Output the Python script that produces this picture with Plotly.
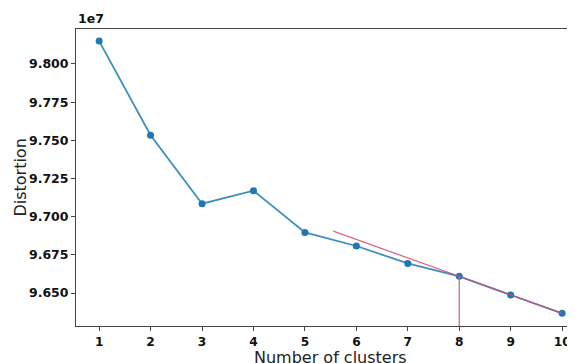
import plotly.graph_objects as go

clusters = [1, 2, 3, 4, 5, 6, 7, 8, 9, 10]
distortion = [98150000, 97533000, 97085000, 97170000, 96897000,
              96808000, 96694000, 96609000, 96487000, 96367000]
ytick_vals = [96500000, 96750000, 97000000, 97250000, 97500000, 97750000, 98000000]
ytick_text = ["9.650", "9.675", "9.700", "9.725", "9.750", "9.775", "9.800"]
xtick_vals = clusters
elbow_k = 8
tangent_start = 5.55

y_min, y_max = 96284000, 98229000

i8 = clusters.index(elbow_k)
slope = (distortion[-1] - distortion[i8]) / (clusters[-1] - clusters[i8])
tx = [tangent_start, clusters[-1]]
ty = [distortion[i8] + slope * (x - elbow_k) for x in tx]

fig = go.Figure()
fig.add_trace(go.Scatter(x=clusters, y=distortion, mode="lines+markers",
                         line=dict(color="#3b8fc0", width=1.8),
                         marker=dict(color="#1f77b4", size=7)))
fig.add_trace(go.Scatter(x=tx, y=ty, mode="lines",
                         line=dict(color="#d9466e", width=1.2), opacity=0.85))
fig.add_trace(go.Scatter(x=[elbow_k, elbow_k], y=[y_min, distortion[i8]], mode="lines",
                         line=dict(color="#e0577a", width=1.2)))

fig.update_layout(
    width=567, height=355,
    margin=dict(l=68, r=0, t=21, b=37),
    plot_bgcolor="white", paper_bgcolor="white",
    showlegend=False,
    font=dict(family="DejaVu Sans", color="#111"),
    xaxis=dict(range=[0.55, 10.25], tickvals=xtick_vals, automargin=False,
               ticks="outside", ticklen=4, tickcolor="#444",
               showline=True, linecolor="#444", linewidth=1, mirror=True,
               showgrid=False, zeroline=False,
               tickfont=dict(size=12.2, weight="bold", color="#111")),
    yaxis=dict(range=[y_min, y_max], tickvals=ytick_vals, ticktext=ytick_text,
               automargin=False,
               ticks="outside", ticklen=4, tickcolor="#444",
               showline=True, linecolor="#444", linewidth=1,
               showgrid=False, zeroline=False,
               tickfont=dict(size=12.5, weight="bold", color="#111")),
    annotations=[
        dict(text="1e7", xref="paper", yref="paper", x=0.0, y=1.0,
             xanchor="left", yanchor="bottom", showarrow=False, yshift=1,
             font=dict(size=12.5, weight="bold", color="#111")),
        dict(text="Number of clusters", xref="paper", yref="paper", x=0.511, y=0,
             xanchor="center", yanchor="top", showarrow=False, yshift=-20,
             font=dict(size=16, color="#222")),
        dict(text="Distortion", xref="paper", yref="paper", x=-0.112, y=0.5,
             xanchor="center", yanchor="middle", showarrow=False, textangle=-90,
             font=dict(size=16, color="#222")),
    ],
)
fig.write_html("out.html")
